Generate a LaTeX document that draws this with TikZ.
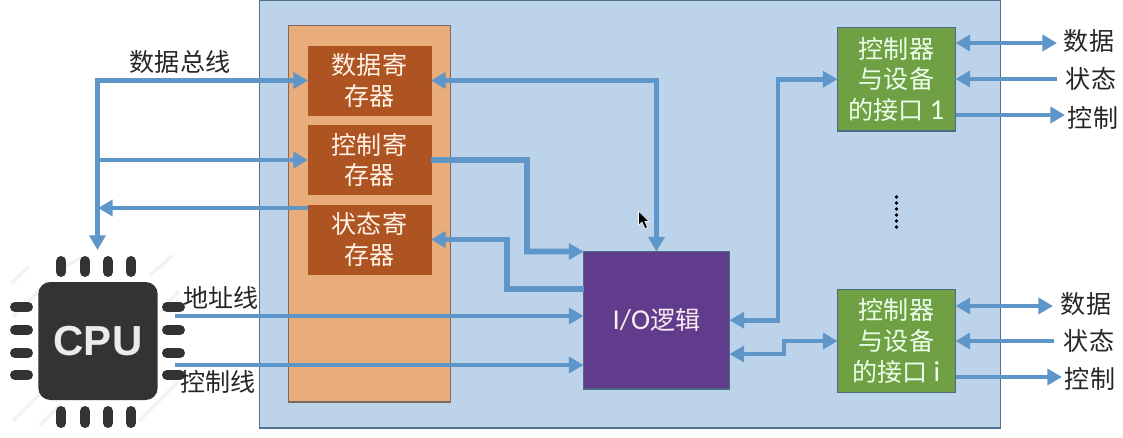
\documentclass[tikz,border=0pt]{standalone}
\usepackage{fontspec}
\setmainfont{Noto Sans CJK SC}
\newfontfamily\lat{Carlito}[Scale=1.15]
\newfontfamily\cpufont{Liberation Sans}
\usetikzlibrary{arrows.meta}
\definecolor{busc}{HTML}{5F96C9}
\definecolor{outerc}{HTML}{BDD3E9}
\definecolor{outerb}{HTML}{50708F}
\definecolor{orangec}{HTML}{E9AD7C}
\definecolor{orangeb}{HTML}{7C6A60}
\definecolor{regc}{HTML}{AE5423}
\definecolor{purplec}{HTML}{613C8C}
\definecolor{greenc}{HTML}{70A044}
\definecolor{boxb}{HTML}{4A6C86}
\definecolor{chipc}{HTML}{333333}
\tikzset{
  x=0.75pt,y=-0.75pt,
  tipa/.tip={Triangle[length=11pt,width=12pt]},
  bus/.style={draw=busc,line width=3.7pt,miter limit=10},
  widebus/.style={bus,line width=4.3pt},
  thinbus/.style={bus,line width=3.4pt},
  base/.style={draw,inner sep=0pt,outer sep=0pt,align=center,font=\fontsize{18.8pt}{23pt}\selectfont},
  outerbox/.style={base,fill=outerc,draw=outerb,line width=0.8pt,minimum width=555.4pt,minimum height=321pt},
  orangebox/.style={base,fill=orangec,draw=orangeb,line width=0.8pt,minimum width=121.5pt,minimum height=282.4pt},
  regbox/.style={base,fill=regc,draw=regc,text=white!90!orange,line width=0.5pt,minimum width=92.25pt,minimum height=51.75pt},
  iobox/.style={base,fill=purplec,draw=boxb,text=white!92!purple,line width=0.8pt,minimum width=109.5pt,minimum height=103.1pt},
  greenbox/.style={base,fill=greenc,draw=boxb,text=white!92!green,line width=0.8pt,minimum width=88.5pt,minimum height=77.6pt},
  lab/.style={inner sep=0pt,font=\fontsize{18.8pt}{22pt}\selectfont,text=black!85},
  chip/.style={fill=chipc,draw=none,rounded corners=9pt,inner sep=0pt,minimum width=89.5pt,minimum height=88.5pt,text=white!92!black,font=\cpufont\bfseries\fontsize{31.5pt}{34pt}\selectfont},
  pin/.style={draw=chipc,line width=7.5pt,line cap=round},
  haze/.style={draw=black!5,line width=2.5pt,line cap=round},
}
\begin{document}
\begin{tikzpicture}
\useasboundingbox (0,0) rectangle (1123,438);
\node[outerbox] (outer) at (629.75,214) {};
\node[orangebox] (panel) at (369.5,213.75) {};
\node[regbox] (dr) at (369.5,80.5) {数据寄\\存器};
\node[regbox] (cr) at (369.5,160) {控制寄\\存器};
\node[regbox] (sr) at (369.5,239.5) {状态寄\\存器};
\node[iobox] (io) at (656.5,320.25) {{\lat I/O}逻辑};
\node[greenbox] (ga) at (896.5,79.25) {控制器\\与设备\\的接口 {\lat 1}};
\node[greenbox] (gi) at (896.5,341) {控制器\\与设备\\的接口 {\lat i}};
% CPU icon
\foreach \a/\b/\c/\d in {12/283/28/267,14/316/48/282,14/420/40/394,150/275/172/256,160/312/178/292,140/420/178/382,60/270/80/258,40/425/60/405}
  \draw[haze] (\a,\b) -- (\c,\d);
\node[chip] (cpu) at (98,341) {CPU};
\foreach \p in {61,85,108,131} {
  \draw[pin] (\p,261) -- (\p,272);
  \draw[pin] (\p,411) -- (\p,423);
}
\foreach \q in {307,330,353,375} {
  \draw[pin] (15,\q) -- (28,\q);
  \draw[pin] (167,\q) -- (180,\q);
}
% labels
\node[lab] (l1) at (180,62) {数据总线};
\node[lab] (l2) at (221,298) {地址线};
\node[lab] (l3) at (218,382) {控制线};
\node[lab] (ad) at (1089,41) {数据};
\node[lab] (as) at (1091,79) {状态};
\node[lab] (ac) at (1093,118) {控制};
\node[lab] (id) at (1086,304) {数据};
\node[lab] (is) at (1089,341) {状态};
\node[lab] (ic) at (1090,379) {控制};
% helper points
\coordinate (busT) at (97.5,80.5);
\coordinate (busE) at (97.5,250);
\coordinate (busS) at (98,208);
\coordinate (addr) at (175,316);
\coordinate (ctrl) at (175,365);
\coordinate (iosy) at (507,289);
\coordinate (crx) at (527,251.5);
\coordinate (gax) at (778,79.25);
\coordinate (gix) at (784,341);
\coordinate (gjy) at (784,354);
\coordinate (adE) at (1057,43);
\coordinate (asE) at (1057,79);
\coordinate (acE) at (1065,115);
\coordinate (idE) at (1053,306);
\coordinate (isE) at (1054,341);
\coordinate (icE) at (1062,377);
% connectors
\draw[bus,{tipa}-{tipa}] (busE) -- (busT) -- (dr.west);
\draw[bus,-{tipa}] (busT |- cr.west) -- (cr.west);
\draw[thinbus,-{tipa}] (sr.west |- busS) -- (busS);
\draw[bus,{tipa}-{tipa}] (dr.east) -- (dr.east -| io.north) -- (io.north);
\draw[widebus,-{tipa}] (cr.east) -- (cr.east -| crx) -- (crx) -- (io.north west);
\draw[widebus,{tipa}-] (sr.east) -- (sr.east -| iosy) -- (iosy) -- (iosy -| io.west);
\draw[thinbus,-{tipa}] (addr) -- (addr -| io.west);
\draw[thinbus,-{tipa}] (ctrl) -- (ctrl -| io.west);
\draw[bus,{tipa}-{tipa}] (io.east) -- (io.east -| gax) -- (gax) -- (ga.west);
\draw[bus,{tipa}-{tipa}] (gjy -| io.east) -- (gjy) -- (gix) -- (gi.west);
\draw[bus,{tipa}-{tipa}] (adE -| ga.east) -- (adE);
\draw[bus,-{tipa}] (asE) -- (asE -| ga.east);
\draw[bus,-{tipa}] (acE -| ga.east) -- (acE);
\draw[bus,{tipa}-{tipa}] (idE -| gi.east) -- (idE);
\draw[bus,-{tipa}] (isE) -- (isE -| gi.east);
\draw[bus,-{tipa}] (icE -| gi.east) -- (icE);
% dots between the two interfaces
\foreach \k in {197,203,209,215,221,227} \fill[black] (896.5,\k) circle (1.4pt);
% pointer
\fill[black,draw=white,line width=0.4pt] (638.5,211) -- (638.5,225) -- (642,222) -- (645,228.5) -- (647.5,227.5) -- (644.8,221.5) -- (649,221.5) -- cycle;
\end{tikzpicture}
\end{document}
